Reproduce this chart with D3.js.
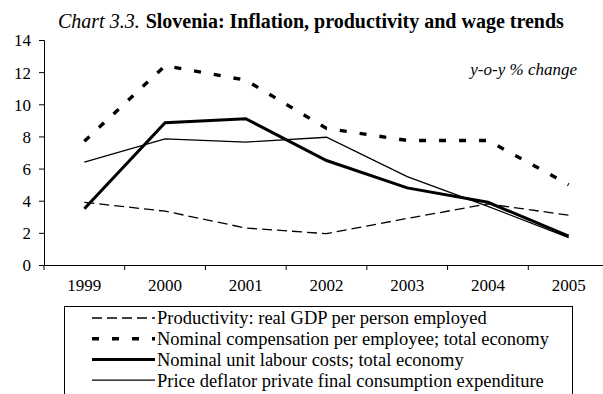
<!DOCTYPE html>
<html>
<head>
<meta charset="utf-8">
<script src="https://cdn.jsdelivr.net/npm/d3@7"></script>
<style>
  body { margin: 0; background: #fff; overflow: hidden; }
  text { font-family: "Liberation Serif", "Times New Roman", serif; fill: #000; }
</style>
</head>
<body>
<svg id="chart" width="603" height="394"></svg>
<script>
var years = ["1999", "2000", "2001", "2002", "2003", "2004", "2005"];
var productivity = [3.9, 3.35, 2.3, 1.95, 2.9, 3.8, 3.1];
var compensation = [7.7, 12.4, 11.5, 8.5, 7.75, 7.75, 5.0];
var unitLabour = [3.5, 8.85, 9.1, 6.5, 4.8, 3.9, 1.8];
var deflator = [6.4, 7.85, 7.65, 7.95, 5.5, 3.65, 1.7];
var yTicks = [0, 2, 4, 6, 8, 10, 12, 14];
var seriesNames = [
  "Productivity: real GDP per person employed",
  "Nominal compensation per employee; total economy",
  "Nominal unit labour costs; total economy",
  "Price deflator private final consumption expenditure"
];

var svg = d3.select("#chart");
var m = { left: 44, right: 609, top: 40, bottom: 265 };
var serif = '"Liberation Serif", "Times New Roman", serif';

var x = d3.scaleBand().domain(years).range([m.left, m.right]);
var y = d3.scaleLinear().domain([0, 14]).range([m.bottom, m.top]);

// line look per series
var styles = [
  { data: productivity, width: 1.3, dash: "10,5" },
  { data: compensation, width: 3.4, dash: "7,13" },
  { data: unitLabour, width: 3, dash: null },
  { data: deflator, width: 1.3, dash: null }
];

// axes
var yAxis = d3.axisLeft(y).tickValues(yTicks).tickSize(5).tickPadding(8);
var gy = svg.append("g").attr("transform", "translate(" + m.left + ",0)").call(yAxis)
  .attr("font-family", serif).attr("font-size", 17);
gy.select(".domain").attr("stroke", "#000");
gy.selectAll("text").attr("dy", "0.35em");

var xAxis = d3.axisBottom(x).tickSize(0).tickPadding(14);
var gx = svg.append("g").attr("transform", "translate(0," + m.bottom + ")").call(xAxis)
  .attr("font-family", serif).attr("font-size", 17);
gx.select(".domain").attr("stroke", "#000").attr("stroke-width", 1.2);
// tick marks sit on the band edges
gx.selectAll(".bnd").data(years).enter().append("line")
  .attr("class", "bnd")
  .attr("x1", function(d) { return x(d); })
  .attr("x2", function(d) { return x(d); })
  .attr("y1", 0).attr("y2", 5)
  .attr("stroke", "#000");

var line = d3.line()
  .x(function(d, i) { return x(years[i]) + x.bandwidth() / 2; })
  .y(function(d) { return y(d); });

styles.forEach(function(s) {
  svg.append("path")
    .attr("d", line(s.data))
    .attr("fill", "none")
    .attr("stroke", "#000")
    .attr("stroke-width", s.width)
    .attr("stroke-dasharray", s.dash);
});

// title
var title = svg.append("text").attr("x", 58).attr("y", 28).style("font-size", "20px");
title.append("tspan").style("font-style", "italic").text("Chart 3.3.");
title.append("tspan").style("font-weight", "bold").attr("dx", 6).text("Slovenia: Inflation, productivity and wage trends");

svg.append("text").attr("x", 577).attr("y", 75)
  .attr("text-anchor", "end")
  .style("font-style", "italic").style("font-size", "17px")
  .text("y-o-y % change");

// legend
var lg = svg.append("g");
lg.append("rect").attr("x", 64.5).attr("y", 306.5).attr("width", 508).attr("height", 110)
  .attr("fill", "none").attr("stroke", "#000").attr("stroke-width", 1);
seriesNames.forEach(function(name, i) {
  var cy = 318 + i * 20.7;
  lg.append("line").attr("x1", 92).attr("x2", 155).attr("y1", cy).attr("y2", cy)
    .attr("stroke", "#000")
    .attr("stroke-width", styles[i].width)
    .attr("stroke-dasharray", styles[i].dash);
  lg.append("text").attr("x", 157).attr("y", cy).attr("dy", "0.35em")
    .style("font-size", "18.5px").text(name);
});
</script>
</body>
</html>
